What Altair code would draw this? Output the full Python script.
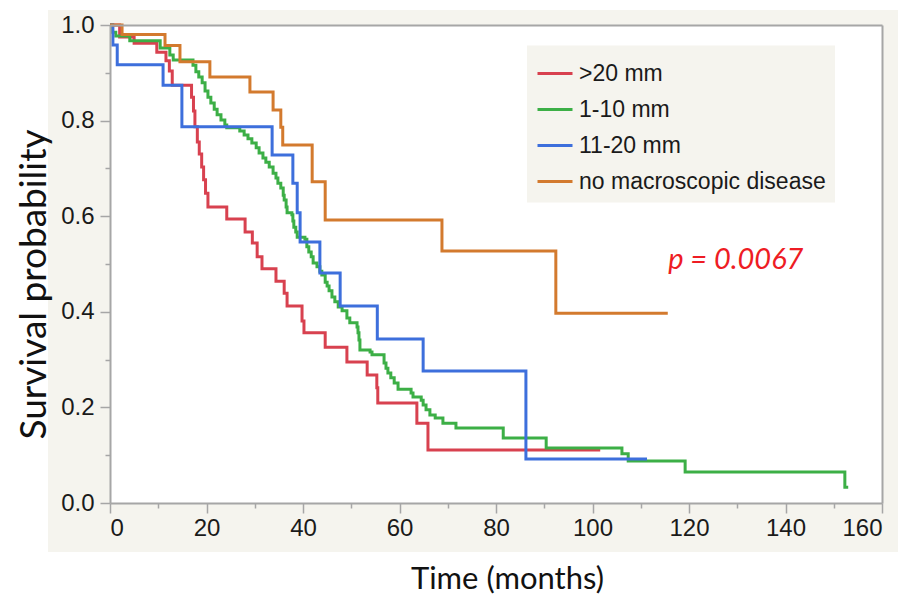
import altair as alt
import pandas as pd

groups = [">20 mm", "1-10 mm", "11-20 mm", "no macroscopic disease"]
colors = ["#d8414f", "#3caf46", "#3d6fdc", "#d37a2e"]

t_red = [0, 2.0, 5.0, 9.7, 11.6, 12.3, 12.9, 16.9, 17.3, 17.6, 18.1, 18.5, 19.0, 19.4, 19.8, 20.3,
         24.2, 28.0, 29.5, 30.5, 31.5, 34.4, 36.1, 36.7, 39.8, 40.2, 44.6, 49.1, 53.3, 55.3, 55.5,
         63.6, 65.9, 101.6]
s_red = [1.0, 0.975, 0.962, 0.943, 0.925, 0.904, 0.874, 0.849, 0.820, 0.787, 0.755, 0.730, 0.703,
         0.676, 0.648, 0.619, 0.594, 0.567, 0.544, 0.515, 0.490, 0.464, 0.439, 0.412, 0.381, 0.356,
         0.326, 0.295, 0.268, 0.241, 0.209, 0.167, 0.111, 0.111]

t_green = [0, 0.5, 1.2, 4.1, 10.4, 12.4, 13.1, 17.2, 17.8, 18.4, 19.1, 19.7, 20.3, 20.9, 21.6, 22.2,
           23.0, 23.8, 24.2, 26.9, 27.8, 28.6, 29.4, 30.3, 30.9, 31.7, 32.3, 33.0, 33.8, 34.4, 34.8,
           35.4, 35.9, 36.1, 36.5, 36.7, 37.7, 37.9, 38.1, 38.5, 38.8, 40.4, 40.8, 41.2, 41.7, 42.1,
           42.9, 43.5, 43.9, 44.6, 45.0, 45.4, 46.0, 46.6, 47.3, 48.1, 49.1, 49.7, 51.2, 51.4, 51.6,
           51.8, 53.9, 54.3, 56.8, 57.2, 57.6, 58.2, 58.9, 59.7, 62.4, 62.8, 64.5, 64.9, 65.5, 66.3,
           67.4, 69.0, 71.7, 81.5, 90.4, 106.1, 107.4, 119.2, 152.3, 153.0]
s_green = [1.0, 0.985, 0.977, 0.967, 0.952, 0.937, 0.927, 0.916, 0.902, 0.891, 0.879, 0.862, 0.849,
           0.837, 0.824, 0.812, 0.801, 0.791, 0.785, 0.778, 0.770, 0.762, 0.753, 0.743, 0.732, 0.722,
           0.713, 0.703, 0.690, 0.680, 0.669, 0.659, 0.644, 0.634, 0.619, 0.607, 0.603, 0.590, 0.577,
           0.567, 0.556, 0.552, 0.536, 0.525, 0.515, 0.502, 0.494, 0.485, 0.477, 0.462, 0.454, 0.444,
           0.431, 0.421, 0.410, 0.402, 0.387, 0.377, 0.368, 0.356, 0.341, 0.320, 0.316, 0.310, 0.293,
           0.282, 0.272, 0.262, 0.251, 0.238, 0.230, 0.222, 0.215, 0.205, 0.195, 0.184, 0.178, 0.167,
           0.157, 0.136, 0.115, 0.103, 0.088, 0.065, 0.033, 0.033]

t_blue = [0, 0.6, 1.5, 11.0, 14.9, 33.6, 37.9, 38.8, 39.4, 43.5, 47.7, 55.4, 64.9, 86.2, 111.3]
s_blue = [1.0, 0.958, 0.917, 0.874, 0.787, 0.728, 0.669, 0.607, 0.546, 0.481, 0.412, 0.343, 0.276,
          0.092, 0.092]

t_orange = [0, 2.5, 11.4, 14.5, 20.7, 29.0, 33.8, 35.4, 35.8, 41.9, 44.6, 68.8, 92.4, 115.6]
s_orange = [1.0, 0.980, 0.957, 0.923, 0.891, 0.860, 0.822, 0.786, 0.749, 0.672, 0.592, 0.527, 0.397,
            0.397]

x_major = [0, 20, 40, 60, 80, 100, 120, 140, 160]
x_minor = [10, 30, 50, 70, 90, 110, 130, 150]
y_major = [0.0, 0.2, 0.4, 0.6, 0.8, 1.0]
y_minor = [0.1, 0.3, 0.5, 0.7, 0.9]

p_label = "p = 0.0067"
p_pos = (129.7, 0.508)

rows = []
for g, ts, ss in zip(groups, [t_red, t_green, t_blue, t_orange], [s_red, s_green, s_blue, s_orange]):
    for t, s in zip(ts, ss):
        rows.append({"group": g, "t": t, "S": s})
df = pd.DataFrame(rows)
one = pd.DataFrame({"k": [0]})

W, H = 772, 478
BEIGE = "#f5f4ee"
GRAY = "#a6a6a6"

xscale = alt.Scale(domain=[0, 160], nice=False, zero=False)
yscale = alt.Scale(domain=[0, 1], nice=False)

tick_style = dict(tickColor=GRAY, tickWidth=1.5, domainColor=GRAY, domainWidth=2, zindex=1,
                  labelFont="Liberation Sans", labelFontSize=24, labelColor="#1a1a1a")

bg = alt.Chart(one).mark_rect(color=BEIGE).encode(
    x=alt.value(-62), x2=alt.value(W + 26), y=alt.value(-15), y2=alt.value(H + 49)
)

plot = alt.Chart(one).mark_rect(color="white").encode(
    x=alt.X(datum=0, scale=xscale,
            axis=alt.Axis(orient="bottom", values=x_minor, tickSize=5, labels=False, domain=False,
                          title=None, **tick_style)),
    x2=alt.X2(datum=160),
    y=alt.Y(datum=0, scale=yscale,
            axis=alt.Axis(orient="left", values=y_minor, tickSize=5, labels=False, domain=False,
                          title=None, **tick_style)),
    y2=alt.Y2(datum=1),
)

lines = alt.Chart(df).mark_line(interpolate="step-after", strokeWidth=3).encode(
    x=alt.X("t:Q", scale=xscale,
            axis=alt.Axis(orient="bottom", values=x_major, tickSize=10, labelPadding=3,
                          title="Time (months)", titleFont="Lato", titleFontSize=31,
                          titleFontWeight="normal", titleColor="#111111",
                          titleX=397, titleY=76, titleAlign="center", titleBaseline="middle",
                          **tick_style)),
    y=alt.Y("S:Q", scale=yscale,
            axis=alt.Axis(orient="left", values=y_major, format=".1f", tickSize=10, labelPadding=6,
                          title="Survival probability", titleFont="Lato", titleFontSize=37,
                          titleFontWeight="normal", titleColor="#111111",
                          titleX=-76, titleY=H / 2 + 20, titleAlign="center", titleBaseline="middle",
                          titleAngle=270, **tick_style)),
    color=alt.Color("group:N", scale=alt.Scale(domain=groups, range=colors),
                    legend=alt.Legend(title=None, orient="none", legendX=417, legendY=20.5,
                                      fillColor=BEIGE, padding=9, symbolType="stroke",
                                      symbolSize=1225, symbolStrokeWidth=3,
                                      labelFont="Liberation Sans", labelFontSize=23,
                                      labelLimit=500, labelColor="#1a1a1a", labelOffset=5,
                                      rowPadding=5)),
)

ptext = alt.Chart(one).mark_text(
    font="Lato", fontSize=29, fontStyle="italic", color="#ee1c24", align="center", baseline="middle"
).encode(
    x=alt.X(datum=p_pos[0], scale=xscale,
            axis=alt.Axis(orient="top", ticks=False, labels=False, title=None, domain=True,
                          domainColor=GRAY, domainWidth=2, zindex=1)),
    y=alt.Y(datum=p_pos[1], scale=yscale,
            axis=alt.Axis(orient="right", ticks=False, labels=False, title=None, domain=True,
                          domainColor=GRAY, domainWidth=2, zindex=1)),
    text=alt.value(p_label),
)

chart = alt.layer(bg, plot, lines, ptext).resolve_axis(
    x="independent", y="independent"
).properties(
    width=W, height=H,
    autosize=alt.AutoSizeParams(type="none"),
    padding={"left": 102, "top": 17, "right": 16, "bottom": 91},
    background="white",
).configure_view(strokeWidth=0)

chart.save("out.html", embed_options={"renderer": "svg", "actions": False})
